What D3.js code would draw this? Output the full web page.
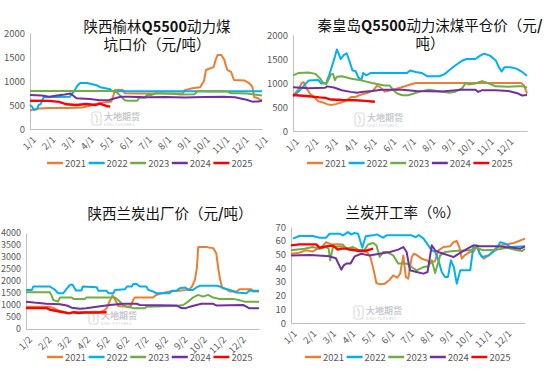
<!DOCTYPE html>
<html><head><meta charset="utf-8">
<script src="https://cdn.jsdelivr.net/npm/d3@7/dist/d3.min.js"></script>
<style>
html,body{margin:0;padding:0;background:#fff;}
svg{display:block;}
text{font-family:"Noto Sans CJK SC","Noto Sans",sans-serif;}
</style></head><body>
<svg id="c" width="550" height="369"></svg>
<script>
// ---------- data ----------
const years = ["2021","2022","2023","2024","2025"];
const colors = ["#ED7D31","#00B0F0","#70AD47","#7030A0","#FF0000"];

const ticks1 = ["1/1","2/1","3/1","4/1","5/1","6/1","7/1","8/1","9/1","10/1","11/1","12/1","1/1"];
const ticks2 = ["1/1","2/1","3/1","4/1","5/1","6/1","7/1","8/1","9/1","10/1","11/1","12/1"];
const ticks3 = ["1/2","2/2","3/2","4/2","5/2","6/2","7/2","8/2","9/2","10/2","11/2","12/2"];
const ticks4 = ["1/1","2/1","3/1","4/1","5/1","6/1","7/1","8/1","9/1","10/1","11/1","12/1"];

const yTicks1 = [0,500,1000,1500,2000];
const yTicks2 = [0,500,1000,1500,2000];
const yTicks3 = [0,500,1000,1500,2000,2500,3000,3500,4000];
const yTicks4 = [0,10,20,30,40,50,60,70];

// Chart 1: 陕西榆林Q5500动力煤坑口价  [month, value]
const yl2021 = [[0,390],[0.5,425],[1,440],[2,440],[2.7,450],[3,475],[3.4,520],[3.9,560],[4.2,570],[4.3,680],[4.4,815],[4.8,815],[4.9,745],[5.5,740],[7.9,740],[8.0,810],[8.4,850],[8.8,870],[9.0,1000],[9.1,1230],[9.3,1260],[9.5,1290],[9.6,1440],[9.7,1540],[9.9,1540],[10.05,1440],[10.2,1230],[10.4,1190],[10.55,1020],[11.1,1010],[11.35,950],[11.5,880],[11.6,660],[11.8,640],[12,590]];
const yl2022 = [[0,500],[0.1,470],[0.2,400],[0.35,410],[0.45,500],[0.55,520],[0.7,660],[2.05,670],[2.3,800],[2.45,900],[2.6,960],[2.95,960],[3.45,910],[3.65,870],[3.95,845],[4.15,830],[4.25,785],[12,785]];
const yl2023 = [[0,790],[4.35,790],[4.5,760],[4.7,680],[4.9,600],[5.1,590],[5.55,590],[5.65,650],[5.95,650],[6.05,710],[6.3,710],[6.5,745],[6.8,745],[7.0,740],[7.4,735],[7.8,720],[8.5,725],[8.7,790],[9.2,780],[9.8,785],[10.2,780],[10.4,745],[10.8,745],[11.2,740],[11.6,720],[12,700]];
const yl2024 = [[0,710],[0.6,700],[1.0,670],[1.4,700],[1.8,720],[2.1,740],[2.4,640],[3.1,625],[3.6,600],[4.1,605],[4.4,640],[4.7,670],[5.1,670],[6,660],[7,665],[8,655],[9,665],[10,670],[10.6,660],[11.2,610],[11.5,570],[11.8,575],[12,590]];
const yl2025 = [[0,590],[1.0,585],[1.5,565],[1.9,515],[2.4,500],[2.9,520],[3.4,500],[3.6,530],[3.95,480],[4.15,465]];

// Chart 2: 秦皇岛Q5500动力沫煤平仓价
const qh2021 = [[0,740],[0.25,850],[0.45,1000],[0.55,1020],[0.7,880],[0.9,760],[1.1,700],[1.3,620],[1.5,600],[1.75,560],[1.95,540],[2.2,560],[2.5,600],[2.8,650],[3.0,710],[3.2,710],[3.5,760],[3.8,790],[4.1,840],[4.3,940],[4.45,920],[4.7,820],[5.0,850],[5.5,900],[6.1,980],[6.3,1000],[11.7,1000],[11.85,950],[12,780]];
const qh2022 = [[0,720],[0.35,850],[0.8,1050],[1.3,1060],[1.45,990],[1.7,1000],[1.85,1160],[2.0,1350],[2.15,1550],[2.25,1700],[2.35,1600],[2.45,1500],[2.6,1580],[2.75,1620],[2.9,1450],[3.05,1260],[3.2,1250],[3.35,1120],[3.5,1060],[3.6,1210],[3.75,1160],[4.0,1210],[5.85,1210],[6.0,1260],[6.3,1230],[6.6,1210],[6.9,1140],[7.5,1140],[7.75,1180],[8.0,1260],[8.3,1360],[8.7,1470],[8.9,1500],[9.35,1500],[9.6,1570],[9.8,1610],[10.1,1570],[10.4,1470],[10.55,1330],[10.7,1240],[10.85,1330],[11.15,1330],[11.45,1300],[11.75,1230],[12,1150]];
const qh2023 = [[0,1160],[0.3,1210],[0.8,1220],[1.15,1190],[1.4,1090],[1.55,1000],[1.7,980],[1.85,1090],[1.95,1180],[2.05,1190],[2.15,1060],[2.25,1130],[2.5,1140],[3.0,1090],[3.55,1050],[4.05,1000],[4.7,950],[4.95,950],[5.15,850],[5.35,780],[5.6,745],[5.9,745],[6.2,780],[6.6,830],[6.95,860],[7.6,825],[8.0,795],[8.3,815],[8.7,900],[8.85,1000],[9.0,970],[9.35,990],[9.7,1040],[10.05,990],[10.4,930],[11.05,920],[11.55,930],[11.8,930],[12,900]];
const qh2024 = [[0,910],[0.8,890],[1.65,900],[1.75,930],[2.1,905],[2.5,850],[2.95,815],[3.3,795],[3.5,815],[4.05,835],[4.55,860],[5.6,860],[6.3,835],[7.65,825],[8.65,860],[9.35,860],[9.5,815],[9.7,850],[10.4,850],[11.05,835],[11.55,780],[11.75,740],[12,750]];
const qh2025 = [[0,750],[0.8,725],[1.35,700],[1.65,690],[1.95,655],[2.5,645],[3.2,640],[3.7,628],[4.2,610]];

// Chart 3: 陕西兰炭出厂价
const lt2021 = [[0,930],[1.2,930],[1.4,880],[1.75,740],[2.1,690],[2.3,650],[2.6,720],[3.0,700],[3.8,700],[4.0,760],[4.15,860],[4.3,1140],[4.45,1400],[4.6,1210],[4.75,960],[5.2,930],[5.4,960],[5.52,1210],[5.6,1310],[6.55,1310],[6.7,1420],[7.0,1490],[7.4,1560],[7.9,1590],[8.27,1630],[8.45,1680],[8.55,1770],[8.7,2050],[8.8,2540],[8.87,3420],[9.3,3420],[9.4,3400],[9.64,3370],[9.8,3160],[9.9,2540],[10.0,2050],[10.1,1730],[10.3,1670],[10.5,1560],[10.85,1560],[11.0,1660],[11.6,1660],[11.7,1560],[12,1560]];
const lt2022 = [[0,1630],[0.3,1630],[0.38,1770],[1.23,1770],[1.5,1630],[1.65,1490],[1.92,1490],[2.05,1630],[2.26,1840],[2.4,1840],[2.57,1600],[2.86,1600],[2.92,1770],[3.64,1740],[3.73,1590],[4.15,1590],[4.25,1490],[4.5,1490],[4.58,1630],[5.1,1660],[5.2,1770],[5.45,1770],[5.52,1870],[5.7,1870],[5.87,1770],[6.2,1770],[6.3,1630],[6.55,1560],[6.72,1490],[7.4,1490],[7.5,1590],[7.75,1590],[7.92,1700],[8.2,1730],[8.35,1630],[8.6,1630],[8.78,1730],[8.95,1800],[9.8,1800],[10.0,1770],[10.15,1700],[10.5,1630],[10.84,1520],[11.35,1490],[11.5,1590],[12,1590]];
const lt2023 = [[0,1530],[1.23,1530],[1.32,1390],[1.4,1210],[1.65,1140],[1.75,1310],[2.35,1310],[2.45,1255],[3.04,1255],[3.1,1310],[4.58,1310],[4.75,1210],[5.0,1000],[5.2,930],[5.6,860],[6.12,860],[6.2,930],[7.0,950],[7.75,960],[8.1,1000],[8.35,1140],[8.6,1310],[8.87,1420],[9.12,1350],[9.38,1420],[9.64,1310],[9.95,1255],[10.67,1255],[10.95,1210],[11.27,1140],[12,1140]];
const lt2024 = [[0,1140],[0.4,1100],[1.06,1050],[1.75,1030],[2.1,980],[2.35,890],[2.78,840],[3.1,860],[3.64,930],[4.32,1000],[5.0,1050],[5.7,1050],[5.87,1000],[7.75,980],[8.0,870],[8.2,860],[8.44,930],[8.78,1000],[9.04,1050],[9.64,1050],[9.8,980],[11.18,1000],[11.35,930],[11.5,860],[12,860]];
const lt2025 = [[0,870],[1.06,870],[1.25,800],[1.58,750],[1.92,700],[2.18,650],[2.45,700],[2.7,660],[3.0,690],[3.6,690],[4.15,700]];

// Chart 4: 兰炭开工率 (%)
const kg2021 = [[0,50.5],[0.43,51.3],[0.77,53],[1.12,52.2],[1.37,54.2],[1.55,55],[1.8,59],[2.06,57.3],[2.4,57.5],[2.65,57.3],[2.84,54.2],[3.0,54.9],[3.26,53.5],[3.6,53],[3.9,51.8],[4.07,48.1],[4.24,38.4],[4.38,29.2],[4.55,28.2],[4.81,28.7],[5.07,31.6],[5.24,34.7],[5.45,33],[5.6,36],[5.76,49.3],[5.89,33.5],[6.01,32.3],[6.19,48.1],[6.3,50.5],[6.45,49.5],[6.7,46.9],[6.96,45.7],[7.13,43.7],[7.39,45.2],[7.56,53],[7.82,55.4],[8.16,55.9],[8.33,59],[8.5,59.8],[8.63,55.4],[8.76,46.9],[8.9,49.3],[9.19,51.8],[9.35,51.8],[9.54,56.6],[9.7,50.5],[9.88,46.9],[10.14,49.3],[10.48,54.2],[10.74,56.6],[11.43,58.3],[12,61.5]];
const kg2022 = [[0.1,61.5],[0.43,63.4],[1.12,63.4],[1.46,62.2],[1.8,62.2],[1.98,65.1],[2.49,65.1],[2.66,63.9],[2.92,66.3],[3.09,64.6],[3.26,65.6],[3.44,65.1],[3.66,54.9],[3.83,63.2],[4.21,63.9],[4.4,64.6],[4.72,62.2],[4.9,63.9],[6.19,63.9],[6.4,62.5],[6.55,64.2],[6.8,61.5],[7.04,56.6],[7.22,53],[7.39,51.8],[7.56,45.7],[7.73,37.2],[7.9,33.5],[8.05,33.5],[8.2,45.7],[8.35,40.8],[8.5,28.7],[8.68,38.4],[9.19,38.4],[9.36,56.6],[9.52,56.6],[9.67,50.5],[9.8,48.1],[10.14,49.3],[10.48,53],[10.74,59],[11.0,57.8],[11.25,55.4],[12,55.9]];
const kg2023 = [[0,53],[0.69,54.2],[1.12,55.4],[1.46,54.2],[1.8,55.4],[1.93,54.2],[2.01,45.7],[2.15,55.4],[2.66,55.9],[2.9,54.2],[3.18,55.4],[3.52,53],[3.78,53.5],[3.95,57.3],[4.21,58.3],[4.38,56.6],[4.55,48.1],[4.72,51.8],[4.9,51.8],[5.24,49.3],[5.5,43.3],[5.93,43.3],[6.19,40.8],[6.44,38.4],[6.79,40.8],[7.05,41.3],[7.22,45.7],[7.39,36.5],[7.65,49.3],[7.9,51.8],[8.33,52.5],[9.19,53],[9.45,54.9],[9.88,53],[10.57,53.5],[11.08,54.9],[11.6,53],[11.85,52.5],[12,54.2]];
const kg2024 = [[0,49.2],[1.0,49.5],[1.98,48.6],[2.3,47.2],[2.58,38.9],[2.7,42],[2.84,43.3],[3.05,43.3],[3.27,48.6],[3.6,50.5],[4.0,49.3],[4.55,50.5],[5.07,51.8],[5.5,53.5],[5.76,55.4],[5.93,51.8],[6.1,38.4],[6.44,37.2],[6.79,36],[7.0,37.2],[7.22,56.6],[7.39,53],[7.56,51.8],[7.82,50.5],[8.08,49.3],[8.33,48.1],[8.76,51.8],[9.19,55.4],[9.36,56.6],[9.7,55.9],[10.57,55.9],[11.4,54.9],[11.77,54.2],[12,55.9]];
const kg2025 = [[0,56.6],[0.43,57.3],[1.29,57.3],[1.46,54.9],[1.8,55.9],[2.15,56.4],[2.4,53.5],[2.6,54.2],[2.84,54.2],[3.0,53.5],[3.52,52.5],[3.78,52.5],[4.04,53.5],[4.21,54.2]];

// ---------- drawing ----------
const svg = d3.select("#c");

function drawChart(cfg){
  const g = svg.append("g");
  const x = d3.scaleLinear().domain([0,12]).range([cfg.x0, cfg.x1]);
  const y = d3.scaleLinear().domain([0, cfg.yMax]).range([cfg.yb, cfg.yt]);

  // title
  cfg.title.forEach((ln,i)=>{
    const t = g.append("text").attr("x", cfg.tx).attr("y", cfg.ty + i*18)
      .attr("text-anchor","middle").attr("font-size", 14.5).attr("fill","#111");
    ln.forEach(p=>{
      t.append("tspan").text(p.t).attr("font-weight", p.b ? "bold" : "normal");
    });
  });

  // watermark
  const wm = g.append("g").attr("transform", `translate(${cfg.wx},${cfg.wy})`).attr("opacity",0.55);
  wm.append("rect").attr("x",0).attr("y",0).attr("width",9).attr("height",13).attr("rx",2)
    .attr("fill","none").attr("stroke","#b9c2d0").attr("stroke-width",1.2);
  wm.append("path").attr("d","M3,2 Q7,6 4,11").attr("fill","none").attr("stroke","#d8b98a").attr("stroke-width",1.2);
  wm.append("text").attr("x",12).attr("y",8).attr("font-size",9).attr("font-weight","bold")
    .attr("fill","#9aa0a8").text("大地期货");
  wm.append("text").attr("x",12).attr("y",14).attr("font-size",3.6).attr("font-family","Roboto,sans-serif")
    .attr("letter-spacing",0.5).attr("fill","#9aa0a8").text("DADI FUTURES");

  // y axis
  const ya = g.append("g").attr("transform",`translate(${cfg.x0},0)`)
    .call(d3.axisLeft(y).tickValues(cfg.yTicks).tickFormat(d3.format("d")).tickSize(0).tickPadding(5));
  ya.select(".domain").attr("stroke","#bfbfbf");
  ya.selectAll("text").attr("font-size",cfg.yFont).attr("fill","#595959")
    .attr("font-family","Liberation Sans, Arial, sans-serif");

  // x axis
  const xa = g.append("g").attr("transform",`translate(0,${cfg.yb})`)
    .call(d3.axisBottom(x).tickValues(d3.range(cfg.xTicks.length)).tickFormat(i=>cfg.xTicks[i]).tickSize(0));
  xa.select(".domain").attr("stroke","#bfbfbf");
  xa.selectAll("text").attr("font-size",9.5).attr("fill","#595959")
    .attr("font-family","Liberation Sans, Arial, sans-serif")
    .attr("text-anchor","end").attr("y",0).attr("dy","0.35em")
    .attr("transform","translate(4,9) rotate(-45)");

  // lines
  const line = d3.line().x(d=>x(d[0])).y(d=>y(d[1]));
  cfg.series.forEach((s,i)=>{
    g.append("path").datum(s).attr("d", line).attr("fill","none")
      .attr("stroke", colors[i]).attr("stroke-width", i===4 ? 2.4 : 2)
      .attr("stroke-linejoin","round");
  });

  // legend
  years.forEach((yr,i)=>{
    const lx = cfg.lx + i*41.6;
    g.append("line").attr("x1",lx).attr("x2",lx+16).attr("y1",cfg.ly).attr("y2",cfg.ly)
      .attr("stroke",colors[i]).attr("stroke-width",2.5);
    g.append("text").attr("x",lx+18).attr("y",cfg.ly+3.5).attr("font-size",9.5)
      .attr("font-family","Liberation Sans, Arial, sans-serif").attr("fill","#595959").text(yr);
  });
}

drawChart({x0:30,x1:262,yb:129,yt:33,yMax:2000,yTicks:yTicks1,xTicks:ticks1,yFont:9.5,
  series:[yl2021,yl2022,yl2023,yl2024,yl2025],
  title:[[{t:"陕西榆林"},{t:"Q5500",b:true},{t:"动力煤"}],[{t:"坑口价（元"},{t:"/",b:true},{t:"吨）"}]],
  tx:157,ty:32,wx:92,wy:112,lx:47,ly:163});

drawChart({x0:293,x1:527,yb:131,yt:35,yMax:2000,yTicks:yTicks2,xTicks:ticks2,yFont:9.5,
  series:[qh2021,qh2022,qh2023,qh2024,qh2025],
  title:[[{t:"秦皇岛"},{t:"Q5500",b:true},{t:"动力沫煤平仓价（元"},{t:"/",b:true}],[{t:"吨）"}]],
  tx:430,ty:31,wx:355,wy:113,lx:307,ly:163});

drawChart({x0:26,x1:259,yb:329,yt:233,yMax:4000,yTicks:yTicks3,xTicks:ticks3,yFont:9,
  series:[lt2021,lt2022,lt2023,lt2024,lt2025],
  title:[[{t:"陕西兰炭出厂价（元"},{t:"/",b:true},{t:"吨）"}]],
  tx:170,ty:219,wx:89,wy:311,lx:47,ly:357});

drawChart({x0:291,x1:525,yb:323,yt:227,yMax:70,yTicks:yTicks4,xTicks:ticks4,yFont:9.5,
  series:[kg2021,kg2022,kg2023,kg2024,kg2025],
  title:[[{t:"兰炭开工率（%）"}]],
  tx:403,ty:218,wx:354,wy:306,lx:305,ly:357});
</script>
</body></html>
